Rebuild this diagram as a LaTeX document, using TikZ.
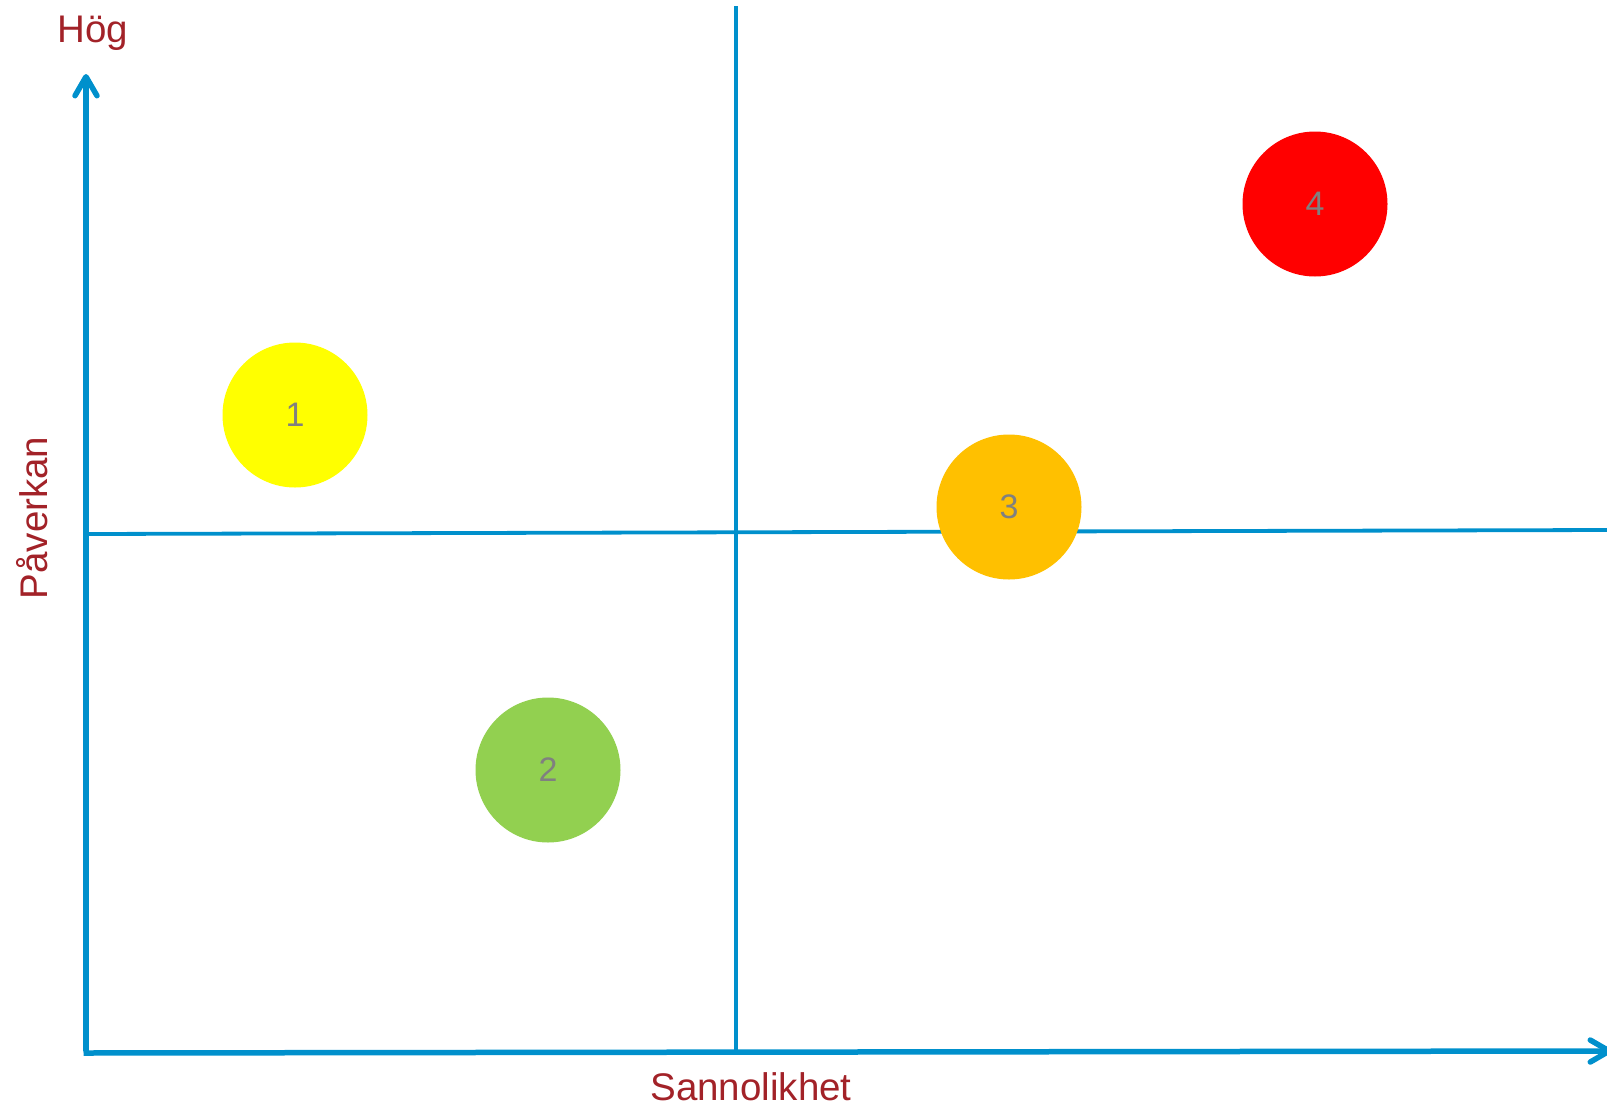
\documentclass[tikz,border=0pt]{standalone}
\usepackage{fontspec}
\setmainfont{Liberation Sans}
\usetikzlibrary{arrows.meta}
\definecolor{axisblue}{RGB}{0,144,204}
\definecolor{labelred}{RGB}{162,34,40}
\definecolor{numgray}{RGB}{128,128,128}
\definecolor{riskyellow}{RGB}{255,255,0}
\definecolor{riskgreen}{RGB}{146,208,80}
\definecolor{riskorange}{RGB}{255,192,0}
\definecolor{riskred}{RGB}{255,0,0}
\begin{document}
\begin{tikzpicture}[x=1pt,y=-1pt,
  axis/.style={draw=axisblue,line width=5.5pt,-{Straight Barb[length=19pt,width=22pt,round]}},
  divider/.style={draw=axisblue,line width=3.8pt},
  lbl/.style={text=labelred,font=\fontsize{38.5}{44}\selectfont,inner sep=0pt},
  risk/.style={circle,minimum size=145pt,inner sep=0pt,text=numgray,font=\fontsize{34}{40}\selectfont},
]
\useasboundingbox (0,0) rectangle (1607,1106);
\coordinate (origin) at (86,1053);
\coordinate (ytop) at (86,74);
\coordinate (xend) at (1612,1051);
\coordinate (vtop) at (736,6);
\coordinate (vbot) at (736,1051);
\coordinate (hleft) at (86,534);
\coordinate (hright) at (1607,530);
\draw[divider] (vtop) -- (vbot);
\draw[divider] (hleft) -- (hright);
\draw[axis] ([yshift=2pt]origin) -- (ytop);
\draw[axis] ([xshift=-2.5pt]origin) -- (xend);
\node[lbl] (hog) at (93,33) {Hög};
\node[lbl] (sann) at (751,1087) {Sannolikhet};
\node[lbl,rotate=90] (pav) at (32,518) {Påverkan};
\node[risk,fill=riskyellow] (r1) at (295,415) {1};
\node[risk,fill=riskgreen] (r2) at (548,770) {2};
\node[risk,fill=riskorange] (r3) at (1009,507) {3};
\node[risk,fill=riskred] (r4) at (1315,204) {4};
\end{tikzpicture}
\end{document}
